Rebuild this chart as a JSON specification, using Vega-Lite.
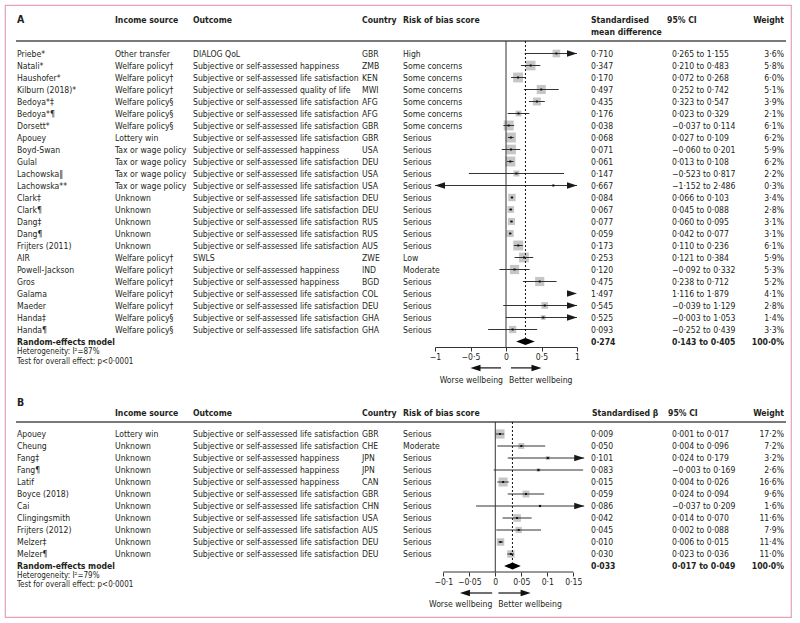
{
 "$schema": "https://vega.github.io/schema/vega-lite/v6.json",
 "width": 786, "height": 612,
 "autosize": {"type": "none"},
 "padding": {"left": 5, "top": 5, "right": 9, "bottom": 6},
 "background": "white",
 "config": {
  "view": {"stroke": "#e6a1b6", "strokeWidth": 1.2},
  "text": {"font": "DejaVu Sans Condensed, Liberation Sans, sans-serif", "fontSize": 8.6, "color": "#231f20", "baseline": "middle"},
  "axis": {"labelFont": "DejaVu Sans Condensed, Liberation Sans, sans-serif", "labelFontSize": 8.6, "labelColor": "#231f20", "grid": false}
 },
 "datasets": {
  "a": [
   {"i":0,"study":"Priebe*","income":"Other transfer","outcome":"DIALOG QoL","country":"GBR","risk":"High","est":0.710,"lo":0.265,"hi":1.155,"w":3.6},
   {"i":1,"study":"Natali*","income":"Welfare policy†","outcome":"Subjective or self-assessed happiness","country":"ZMB","risk":"Some concerns","est":0.347,"lo":0.210,"hi":0.483,"w":5.8},
   {"i":2,"study":"Haushofer*","income":"Welfare policy†","outcome":"Subjective or self-assessed life satisfaction","country":"KEN","risk":"Some concerns","est":0.170,"lo":0.072,"hi":0.268,"w":6.0},
   {"i":3,"study":"Kilburn (2018)*","income":"Welfare policy†","outcome":"Subjective or self-assessed quality of life","country":"MWI","risk":"Some concerns","est":0.497,"lo":0.252,"hi":0.742,"w":5.1},
   {"i":4,"study":"Bedoya*‡","income":"Welfare policy§","outcome":"Subjective or self-assessed life satisfaction","country":"AFG","risk":"Some concerns","est":0.435,"lo":0.323,"hi":0.547,"w":3.9},
   {"i":5,"study":"Bedoya*¶","income":"Welfare policy§","outcome":"Subjective or self-assessed life satisfaction","country":"AFG","risk":"Some concerns","est":0.176,"lo":0.023,"hi":0.329,"w":2.1},
   {"i":6,"study":"Dorsett*","income":"Welfare policy§","outcome":"Subjective or self-assessed life satisfaction","country":"GBR","risk":"Some concerns","est":0.038,"lo":-0.037,"hi":0.114,"w":6.1},
   {"i":7,"study":"Apouey","income":"Lottery win","outcome":"Subjective or self-assessed life satisfaction","country":"GBR","risk":"Serious","est":0.068,"lo":0.027,"hi":0.109,"w":6.2},
   {"i":8,"study":"Boyd-Swan","income":"Tax or wage policy","outcome":"Subjective or self-assessed happiness","country":"USA","risk":"Serious","est":0.071,"lo":-0.060,"hi":0.201,"w":5.9},
   {"i":9,"study":"Gulal","income":"Tax or wage policy","outcome":"Subjective or self-assessed life satisfaction","country":"DEU","risk":"Serious","est":0.061,"lo":0.013,"hi":0.108,"w":6.2},
   {"i":10,"study":"Lachowska‖","income":"Tax or wage policy","outcome":"Subjective or self-assessed life satisfaction","country":"USA","risk":"Serious","est":0.147,"lo":-0.523,"hi":0.817,"w":2.2},
   {"i":11,"study":"Lachowska**","income":"Tax or wage policy","outcome":"Subjective or self-assessed life satisfaction","country":"USA","risk":"Serious","est":0.667,"lo":-1.152,"hi":2.486,"w":0.3},
   {"i":12,"study":"Clark‡","income":"Unknown","outcome":"Subjective or self-assessed life satisfaction","country":"DEU","risk":"Serious","est":0.084,"lo":0.066,"hi":0.103,"w":3.4},
   {"i":13,"study":"Clark¶","income":"Unknown","outcome":"Subjective or self-assessed life satisfaction","country":"DEU","risk":"Serious","est":0.067,"lo":0.045,"hi":0.088,"w":2.8},
   {"i":14,"study":"Dang‡","income":"Unknown","outcome":"Subjective or self-assessed life satisfaction","country":"RUS","risk":"Serious","est":0.077,"lo":0.060,"hi":0.095,"w":3.1},
   {"i":15,"study":"Dang¶","income":"Unknown","outcome":"Subjective or self-assessed life satisfaction","country":"RUS","risk":"Serious","est":0.059,"lo":0.042,"hi":0.077,"w":3.1},
   {"i":16,"study":"Frijters (2011)","income":"Unknown","outcome":"Subjective or self-assessed life satisfaction","country":"AUS","risk":"Serious","est":0.173,"lo":0.110,"hi":0.236,"w":6.1},
   {"i":17,"study":"AIR","income":"Welfare policy†","outcome":"SWLS","country":"ZWE","risk":"Low","est":0.253,"lo":0.121,"hi":0.384,"w":5.9},
   {"i":18,"study":"Powell-Jackson","income":"Welfare policy†","outcome":"Subjective or self-assessed happiness","country":"IND","risk":"Moderate","est":0.120,"lo":-0.092,"hi":0.332,"w":5.3},
   {"i":19,"study":"Gros","income":"Welfare policy†","outcome":"Subjective or self-assessed happiness","country":"BGD","risk":"Serious","est":0.475,"lo":0.238,"hi":0.712,"w":5.2},
   {"i":20,"study":"Galama","income":"Welfare policy†","outcome":"Subjective or self-assessed life satisfaction","country":"COL","risk":"Serious","est":1.497,"lo":1.116,"hi":1.879,"w":4.1},
   {"i":21,"study":"Maeder","income":"Welfare policy†","outcome":"Subjective or self-assessed life satisfaction","country":"DEU","risk":"Serious","est":0.545,"lo":-0.039,"hi":1.129,"w":2.8},
   {"i":22,"study":"Handa‡","income":"Welfare policy§","outcome":"Subjective or self-assessed life satisfaction","country":"GHA","risk":"Serious","est":0.525,"lo":-0.003,"hi":1.053,"w":1.4},
   {"i":23,"study":"Handa¶","income":"Welfare policy§","outcome":"Subjective or self-assessed life satisfaction","country":"GHA","risk":"Serious","est":0.093,"lo":-0.252,"hi":0.439,"w":3.3}
  ],
  "b": [
   {"i":0,"study":"Apouey","income":"Lottery win","outcome":"Subjective or self-assessed life satisfaction","country":"GBR","risk":"Serious","est":0.009,"lo":0.001,"hi":0.017,"w":17.2},
   {"i":1,"study":"Cheung","income":"Unknown","outcome":"Subjective or self-assessed life satisfaction","country":"CHE","risk":"Moderate","est":0.050,"lo":0.004,"hi":0.096,"w":7.2},
   {"i":2,"study":"Fang‡","income":"Unknown","outcome":"Subjective or self-assessed happiness","country":"JPN","risk":"Serious","est":0.101,"lo":0.024,"hi":0.179,"w":3.2},
   {"i":3,"study":"Fang¶","income":"Unknown","outcome":"Subjective or self-assessed happiness","country":"JPN","risk":"Serious","est":0.083,"lo":-0.003,"hi":0.169,"w":2.6},
   {"i":4,"study":"Latif","income":"Unknown","outcome":"Subjective or self-assessed happiness","country":"CAN","risk":"Serious","est":0.015,"lo":0.004,"hi":0.026,"w":16.6},
   {"i":5,"study":"Boyce (2018)","income":"Unknown","outcome":"Subjective or self-assessed life satisfaction","country":"GBR","risk":"Serious","est":0.059,"lo":0.024,"hi":0.094,"w":9.6},
   {"i":6,"study":"Cai","income":"Unknown","outcome":"Subjective or self-assessed life satisfaction","country":"CHN","risk":"Serious","est":0.086,"lo":-0.037,"hi":0.209,"w":1.6},
   {"i":7,"study":"Clingingsmith","income":"Unknown","outcome":"Subjective or self-assessed life satisfaction","country":"USA","risk":"Serious","est":0.042,"lo":0.014,"hi":0.070,"w":11.6},
   {"i":8,"study":"Frijters (2012)","income":"Unknown","outcome":"Subjective or self-assessed life satisfaction","country":"AUS","risk":"Serious","est":0.045,"lo":0.002,"hi":0.088,"w":7.9},
   {"i":9,"study":"Melzer‡","income":"Unknown","outcome":"Subjective or self-assessed life satisfaction","country":"DEU","risk":"Serious","est":0.010,"lo":0.006,"hi":0.015,"w":11.4},
   {"i":10,"study":"Melzer¶","income":"Unknown","outcome":"Subjective or self-assessed life satisfaction","country":"DEU","risk":"Serious","est":0.030,"lo":0.023,"hi":0.036,"w":11.0}
  ],
  "sum": [
   {"panel":"A","label":"Random-effects model","het":"Heterogeneity: I²=87%","test":"Test for overall effect: p<0·0001","est":0.274,"lo":0.143,"hi":0.405,"w":100},
   {"panel":"B","label":"Random-effects model","het":"Heterogeneity: I²=79%","test":"Test for overall effect: p<0·0001","est":0.033,"lo":0.017,"hi":0.049,"w":100}
  ]
 },
 "resolve": {"scale": {"x": "independent", "y": "independent", "size": "independent"}, "axis": {"x": "independent", "y": "independent"}},
 "layer": [
  {
   "data": {"name": "a"},
   "transform": [
    {"calculate": "replace(format(datum.est,'.3f'),'.','·')", "as": "smd_t"},
    {"calculate": "replace(format(datum.lo,'.3f'),'.','·') + ' to ' + replace(format(datum.hi,'.3f'),'.','·')", "as": "ci_t"},
    {"calculate": "replace(format(datum.w,'.1f'),'.','·') + '%'", "as": "w_t"}
   ],
   "layer": [
    {"mark": {"type": "text", "align": "left"}, "encoding": {"x": {"datum": 12, "type": "quantitative", "scale": {"domain": [0, 786], "nice": false, "zero": false}, "axis": null}, "y": {"field": "i", "type": "quantitative", "scale": {"domain": [0, 23], "range": [48.5, 324.5], "nice": false, "zero": false}, "axis": null}, "text": {"field": "study"}}},
    {"mark": {"type": "text", "align": "left"}, "encoding": {"x": {"datum": 110, "type": "quantitative", "scale": {"domain": [0, 786], "nice": false, "zero": false}, "axis": null}, "y": {"field": "i", "type": "quantitative", "scale": {"domain": [0, 23], "range": [48.5, 324.5], "nice": false, "zero": false}, "axis": null}, "text": {"field": "income"}}},
    {"mark": {"type": "text", "align": "left"}, "encoding": {"x": {"datum": 188, "type": "quantitative", "scale": {"domain": [0, 786], "nice": false, "zero": false}, "axis": null}, "y": {"field": "i", "type": "quantitative", "scale": {"domain": [0, 23], "range": [48.5, 324.5], "nice": false, "zero": false}, "axis": null}, "text": {"field": "outcome"}}},
    {"mark": {"type": "text", "align": "left"}, "encoding": {"x": {"datum": 357, "type": "quantitative", "scale": {"domain": [0, 786], "nice": false, "zero": false}, "axis": null}, "y": {"field": "i", "type": "quantitative", "scale": {"domain": [0, 23], "range": [48.5, 324.5], "nice": false, "zero": false}, "axis": null}, "text": {"field": "country"}}},
    {"mark": {"type": "text", "align": "left"}, "encoding": {"x": {"datum": 398, "type": "quantitative", "scale": {"domain": [0, 786], "nice": false, "zero": false}, "axis": null}, "y": {"field": "i", "type": "quantitative", "scale": {"domain": [0, 23], "range": [48.5, 324.5], "nice": false, "zero": false}, "axis": null}, "text": {"field": "risk"}}},
    {"mark": {"type": "text", "align": "left"}, "encoding": {"x": {"datum": 586, "type": "quantitative", "scale": {"domain": [0, 786], "nice": false, "zero": false}, "axis": null}, "y": {"field": "i", "type": "quantitative", "scale": {"domain": [0, 23], "range": [48.5, 324.5], "nice": false, "zero": false}, "axis": null}, "text": {"field": "smd_t"}}},
    {"mark": {"type": "text", "align": "left"}, "encoding": {"x": {"datum": 667, "type": "quantitative", "scale": {"domain": [0, 786], "nice": false, "zero": false}, "axis": null}, "y": {"field": "i", "type": "quantitative", "scale": {"domain": [0, 23], "range": [48.5, 324.5], "nice": false, "zero": false}, "axis": null}, "text": {"field": "ci_t"}}},
    {"mark": {"type": "text", "align": "right"}, "encoding": {"x": {"datum": 779, "type": "quantitative", "scale": {"domain": [0, 786], "nice": false, "zero": false}, "axis": null}, "y": {"field": "i", "type": "quantitative", "scale": {"domain": [0, 23], "range": [48.5, 324.5], "nice": false, "zero": false}, "axis": null}, "text": {"field": "w_t"}}},
    {"data": {"values": [{}]}, "mark": {"type": "text", "align": "left", "fontWeight": "bold", "fontSize": 10.5}, "encoding": {"x": {"datum": 12, "type": "quantitative", "scale": {"domain": [0, 786], "nice": false, "zero": false}, "axis": null}, "y": {"datum": -2.79, "type": "quantitative", "scale": {"domain": [0, 23], "range": [48.5, 324.5], "nice": false, "zero": false}, "axis": null}, "text": {"value": "A"}}},
    {"data": {"values": [{}]}, "mark": {"type": "text", "align": "left", "fontWeight": "bold"}, "encoding": {"x": {"datum": 110, "type": "quantitative", "scale": {"domain": [0, 786], "nice": false, "zero": false}, "axis": null}, "y": {"datum": -2.79, "type": "quantitative", "scale": {"domain": [0, 23], "range": [48.5, 324.5], "nice": false, "zero": false}, "axis": null}, "text": {"value": "Income source"}}},
    {"data": {"values": [{}]}, "mark": {"type": "text", "align": "left", "fontWeight": "bold"}, "encoding": {"x": {"datum": 188, "type": "quantitative", "scale": {"domain": [0, 786], "nice": false, "zero": false}, "axis": null}, "y": {"datum": -2.79, "type": "quantitative", "scale": {"domain": [0, 23], "range": [48.5, 324.5], "nice": false, "zero": false}, "axis": null}, "text": {"value": "Outcome"}}},
    {"data": {"values": [{}]}, "mark": {"type": "text", "align": "left", "fontWeight": "bold"}, "encoding": {"x": {"datum": 357, "type": "quantitative", "scale": {"domain": [0, 786], "nice": false, "zero": false}, "axis": null}, "y": {"datum": -2.79, "type": "quantitative", "scale": {"domain": [0, 23], "range": [48.5, 324.5], "nice": false, "zero": false}, "axis": null}, "text": {"value": "Country"}}},
    {"data": {"values": [{}]}, "mark": {"type": "text", "align": "left", "fontWeight": "bold"}, "encoding": {"x": {"datum": 398, "type": "quantitative", "scale": {"domain": [0, 786], "nice": false, "zero": false}, "axis": null}, "y": {"datum": -2.79, "type": "quantitative", "scale": {"domain": [0, 23], "range": [48.5, 324.5], "nice": false, "zero": false}, "axis": null}, "text": {"value": "Risk of bias score"}}},
    {"data": {"values": [{}]}, "mark": {"type": "text", "align": "left", "fontWeight": "bold"}, "encoding": {"x": {"datum": 586, "type": "quantitative", "scale": {"domain": [0, 786], "nice": false, "zero": false}, "axis": null}, "y": {"datum": -2.79, "type": "quantitative", "scale": {"domain": [0, 23], "range": [48.5, 324.5], "nice": false, "zero": false}, "axis": null}, "text": {"value": "Standardised"}}},
    {"data": {"values": [{}]}, "mark": {"type": "text", "align": "left", "fontWeight": "bold"}, "encoding": {"x": {"datum": 586, "type": "quantitative", "scale": {"domain": [0, 786], "nice": false, "zero": false}, "axis": null}, "y": {"datum": -1.79, "type": "quantitative", "scale": {"domain": [0, 23], "range": [48.5, 324.5], "nice": false, "zero": false}, "axis": null}, "text": {"value": "mean difference"}}},
    {"data": {"values": [{}]}, "mark": {"type": "text", "align": "left", "fontWeight": "bold"}, "encoding": {"x": {"datum": 662, "type": "quantitative", "scale": {"domain": [0, 786], "nice": false, "zero": false}, "axis": null}, "y": {"datum": -2.79, "type": "quantitative", "scale": {"domain": [0, 23], "range": [48.5, 324.5], "nice": false, "zero": false}, "axis": null}, "text": {"value": "95% CI"}}},
    {"data": {"values": [{}]}, "mark": {"type": "text", "align": "right", "fontWeight": "bold"}, "encoding": {"x": {"datum": 779, "type": "quantitative", "scale": {"domain": [0, 786], "nice": false, "zero": false}, "axis": null}, "y": {"datum": -2.79, "type": "quantitative", "scale": {"domain": [0, 23], "range": [48.5, 324.5], "nice": false, "zero": false}, "axis": null}, "text": {"value": "Weight"}}},
    {"data": {"values": [{}]}, "mark": {"type": "rule", "color": "#4d4d4d", "strokeWidth": 1.5}, "encoding": {"x": {"datum": 11, "type": "quantitative", "scale": {"domain": [0, 786], "nice": false, "zero": false}, "axis": null}, "x2": {"datum": 781}, "y": {"datum": -1.04, "type": "quantitative", "scale": {"domain": [0, 23], "range": [48.5, 324.5], "nice": false, "zero": false}, "axis": null}}},
    {
     "data": {"name": "sum"},
     "transform": [
      {"filter": "datum.panel == 'A'"},
      {"calculate": "replace(format(datum.est,'.3f'),'.','·')", "as": "smd_t"},
      {"calculate": "replace(format(datum.lo,'.3f'),'.','·') + ' to ' + replace(format(datum.hi,'.3f'),'.','·')", "as": "ci_t"},
      {"calculate": "replace(format(datum.w,'.1f'),'.','·') + '%'", "as": "w_t"}
     ],
     "layer": [
      {"mark": {"type": "text", "align": "left", "fontWeight": "bold"}, "encoding": {"x": {"datum": 12, "type": "quantitative", "scale": {"domain": [0, 786], "nice": false, "zero": false}, "axis": null}, "y": {"datum": 24, "type": "quantitative", "scale": {"domain": [0, 23], "range": [48.5, 324.5], "nice": false, "zero": false}, "axis": null}, "text": {"field": "label"}}},
      {"mark": {"type": "text", "align": "left", "fontWeight": "bold"}, "encoding": {"x": {"datum": 586, "type": "quantitative", "scale": {"domain": [0, 786], "nice": false, "zero": false}, "axis": null}, "y": {"datum": 24, "type": "quantitative", "scale": {"domain": [0, 23], "range": [48.5, 324.5], "nice": false, "zero": false}, "axis": null}, "text": {"field": "smd_t"}}},
      {"mark": {"type": "text", "align": "left", "fontWeight": "bold"}, "encoding": {"x": {"datum": 667, "type": "quantitative", "scale": {"domain": [0, 786], "nice": false, "zero": false}, "axis": null}, "y": {"datum": 24, "type": "quantitative", "scale": {"domain": [0, 23], "range": [48.5, 324.5], "nice": false, "zero": false}, "axis": null}, "text": {"field": "ci_t"}}},
      {"mark": {"type": "text", "align": "right", "fontWeight": "bold"}, "encoding": {"x": {"datum": 779, "type": "quantitative", "scale": {"domain": [0, 786], "nice": false, "zero": false}, "axis": null}, "y": {"datum": 24, "type": "quantitative", "scale": {"domain": [0, 23], "range": [48.5, 324.5], "nice": false, "zero": false}, "axis": null}, "text": {"field": "w_t"}}},
      {"mark": {"type": "text", "align": "left", "fontSize": 8}, "encoding": {"x": {"datum": 12, "type": "quantitative", "scale": {"domain": [0, 786], "nice": false, "zero": false}, "axis": null}, "y": {"datum": 24.85, "type": "quantitative", "scale": {"domain": [0, 23], "range": [48.5, 324.5], "nice": false, "zero": false}, "axis": null}, "text": {"field": "het"}}},
      {"mark": {"type": "text", "align": "left", "fontSize": 8}, "encoding": {"x": {"datum": 12, "type": "quantitative", "scale": {"domain": [0, 786], "nice": false, "zero": false}, "axis": null}, "y": {"datum": 25.7, "type": "quantitative", "scale": {"domain": [0, 23], "range": [48.5, 324.5], "nice": false, "zero": false}, "axis": null}, "text": {"field": "test"}}}
     ]
    }
   ]
  },
  {
   "data": {"name": "a"},
   "layer": [
    {"transform": [{"filter": "datum.est >= -1 && datum.est <= 1"}], "mark": {"type": "point", "shape": "square", "filled": true, "color": "#c6c6c6", "opacity": 1}, "encoding": {"x": {"field": "est", "type": "quantitative", "scale": {"domain": [-1, 1], "range": [430, 572], "clamp": true, "nice": false, "zero": false}, "axis": {"values": [-1, -0.5, 0, 0.5, 1], "orient": "bottom", "offset": -270, "title": null, "labelExpr": "replace(format(datum.value, '~g'), '.', '·')", "domainColor": "#333333", "tickColor": "#333333", "tickSize": 4, "labelPadding": 1, "labelFlush": false, "labelOverlap": false}}, "y": {"field": "i", "type": "quantitative", "scale": {"domain": [0, 23], "range": [48.5, 324.5], "nice": false, "zero": false}, "axis": null}, "size": {"field": "w", "type": "quantitative", "scale": {"domain": [0, 6.2], "range": [0, 100]}, "legend": null}}},
    {"mark": {"type": "rule", "color": "#333333", "strokeWidth": 1}, "encoding": {"x": {"field": "lo", "type": "quantitative", "scale": {"domain": [-1, 1], "range": [430, 572], "clamp": true, "nice": false, "zero": false}, "axis": {"values": [-1, -0.5, 0, 0.5, 1], "orient": "bottom", "offset": -270, "title": null, "labelExpr": "replace(format(datum.value, '~g'), '.', '·')", "domainColor": "#333333", "tickColor": "#333333", "tickSize": 4, "labelPadding": 1, "labelFlush": false, "labelOverlap": false}}, "x2": {"field": "hi"}, "y": {"field": "i", "type": "quantitative", "scale": {"domain": [0, 23], "range": [48.5, 324.5], "nice": false, "zero": false}, "axis": null}}},
    {"transform": [{"filter": "datum.est >= -1 && datum.est <= 1"}], "mark": {"type": "point", "shape": "square", "filled": true, "color": "#111111", "size": 4, "opacity": 1}, "encoding": {"x": {"field": "est", "type": "quantitative", "scale": {"domain": [-1, 1], "range": [430, 572], "clamp": true, "nice": false, "zero": false}, "axis": {"values": [-1, -0.5, 0, 0.5, 1], "orient": "bottom", "offset": -270, "title": null, "labelExpr": "replace(format(datum.value, '~g'), '.', '·')", "domainColor": "#333333", "tickColor": "#333333", "tickSize": 4, "labelPadding": 1, "labelFlush": false, "labelOverlap": false}}, "y": {"field": "i", "type": "quantitative", "scale": {"domain": [0, 23], "range": [48.5, 324.5], "nice": false, "zero": false}, "axis": null}}},
    {"transform": [{"filter": "datum.hi > 1"}], "mark": {"type": "point", "shape": "M1,0L-1,-0.65L-1,0.65Z", "filled": true, "color": "#1a1a1a", "size": 100, "xOffset": -5, "opacity": 1}, "encoding": {"x": {"field": "hi", "type": "quantitative", "scale": {"domain": [-1, 1], "range": [430, 572], "clamp": true, "nice": false, "zero": false}, "axis": {"values": [-1, -0.5, 0, 0.5, 1], "orient": "bottom", "offset": -270, "title": null, "labelExpr": "replace(format(datum.value, '~g'), '.', '·')", "domainColor": "#333333", "tickColor": "#333333", "tickSize": 4, "labelPadding": 1, "labelFlush": false, "labelOverlap": false}}, "y": {"field": "i", "type": "quantitative", "scale": {"domain": [0, 23], "range": [48.5, 324.5], "nice": false, "zero": false}, "axis": null}}},
    {"transform": [{"filter": "datum.lo < -1"}], "mark": {"type": "point", "shape": "M-1,0L1,-0.65L1,0.65Z", "filled": true, "color": "#1a1a1a", "size": 100, "xOffset": 5, "opacity": 1}, "encoding": {"x": {"field": "lo", "type": "quantitative", "scale": {"domain": [-1, 1], "range": [430, 572], "clamp": true, "nice": false, "zero": false}, "axis": {"values": [-1, -0.5, 0, 0.5, 1], "orient": "bottom", "offset": -270, "title": null, "labelExpr": "replace(format(datum.value, '~g'), '.', '·')", "domainColor": "#333333", "tickColor": "#333333", "tickSize": 4, "labelPadding": 1, "labelFlush": false, "labelOverlap": false}}, "y": {"field": "i", "type": "quantitative", "scale": {"domain": [0, 23], "range": [48.5, 324.5], "nice": false, "zero": false}, "axis": null}}},
    {"data": {"values": [{}]}, "mark": {"type": "rule", "color": "#333333", "strokeWidth": 1}, "encoding": {"x": {"datum": 0, "type": "quantitative", "scale": {"domain": [-1, 1], "range": [430, 572], "clamp": true, "nice": false, "zero": false}, "axis": {"values": [-1, -0.5, 0, 0.5, 1], "orient": "bottom", "offset": -270, "title": null, "labelExpr": "replace(format(datum.value, '~g'), '.', '·')", "domainColor": "#333333", "tickColor": "#333333", "tickSize": 4, "labelPadding": 1, "labelFlush": false, "labelOverlap": false}}, "y": {"datum": -1.04, "type": "quantitative", "scale": {"domain": [0, 23], "range": [48.5, 324.5], "nice": false, "zero": false}, "axis": null}, "y2": {"datum": 24.46}}},
    {"data": {"name": "sum"}, "transform": [{"filter": "datum.panel == 'A'"}], "mark": {"type": "rule", "color": "#111111", "strokeWidth": 1, "strokeDash": [2, 2]}, "encoding": {"x": {"field": "est", "type": "quantitative", "scale": {"domain": [-1, 1], "range": [430, 572], "clamp": true, "nice": false, "zero": false}, "axis": {"values": [-1, -0.5, 0, 0.5, 1], "orient": "bottom", "offset": -270, "title": null, "labelExpr": "replace(format(datum.value, '~g'), '.', '·')", "domainColor": "#333333", "tickColor": "#333333", "tickSize": 4, "labelPadding": 1, "labelFlush": false, "labelOverlap": false}}, "y": {"datum": -1.04, "type": "quantitative", "scale": {"domain": [0, 23], "range": [48.5, 324.5], "nice": false, "zero": false}, "axis": null}, "y2": {"datum": 23.7}}},
    {"data": {"name": "sum"}, "transform": [{"filter": "datum.panel == 'A'"}], "mark": {"type": "point", "shape": "M-1,0L0,-0.38L1,0L0,0.38Z", "filled": true, "color": "#000000", "size": 346, "opacity": 1}, "encoding": {"x": {"field": "est", "type": "quantitative", "scale": {"domain": [-1, 1], "range": [430, 572], "clamp": true, "nice": false, "zero": false}, "axis": {"values": [-1, -0.5, 0, 0.5, 1], "orient": "bottom", "offset": -270, "title": null, "labelExpr": "replace(format(datum.value, '~g'), '.', '·')", "domainColor": "#333333", "tickColor": "#333333", "tickSize": 4, "labelPadding": 1, "labelFlush": false, "labelOverlap": false}}, "y": {"datum": 24, "type": "quantitative", "scale": {"domain": [0, 23], "range": [48.5, 324.5], "nice": false, "zero": false}, "axis": null}}},
    {"data": {"values": [{}]}, "mark": {"type": "rule", "color": "#111111", "strokeWidth": 1.2}, "encoding": {"x": {"datum": -0.07, "type": "quantitative", "scale": {"domain": [-1, 1], "range": [430, 572], "clamp": true, "nice": false, "zero": false}, "axis": {"values": [-1, -0.5, 0, 0.5, 1], "orient": "bottom", "offset": -270, "title": null, "labelExpr": "replace(format(datum.value, '~g'), '.', '·')", "domainColor": "#333333", "tickColor": "#333333", "tickSize": 4, "labelPadding": 1, "labelFlush": false, "labelOverlap": false}}, "x2": {"datum": -0.42}, "y": {"datum": 26.2, "type": "quantitative", "scale": {"domain": [0, 23], "range": [48.5, 324.5], "nice": false, "zero": false}, "axis": null}}},
    {"data": {"values": [{}]}, "mark": {"type": "rule", "color": "#111111", "strokeWidth": 1.2}, "encoding": {"x": {"datum": 0.07, "type": "quantitative", "scale": {"domain": [-1, 1], "range": [430, 572], "clamp": true, "nice": false, "zero": false}, "axis": {"values": [-1, -0.5, 0, 0.5, 1], "orient": "bottom", "offset": -270, "title": null, "labelExpr": "replace(format(datum.value, '~g'), '.', '·')", "domainColor": "#333333", "tickColor": "#333333", "tickSize": 4, "labelPadding": 1, "labelFlush": false, "labelOverlap": false}}, "x2": {"datum": 0.42}, "y": {"datum": 26.2, "type": "quantitative", "scale": {"domain": [0, 23], "range": [48.5, 324.5], "nice": false, "zero": false}, "axis": null}}},
    {"data": {"values": [{}]}, "mark": {"type": "point", "shape": "M-1,0L1,-0.65L1,0.65Z", "filled": true, "color": "#111111", "size": 100, "xOffset": 5, "opacity": 1}, "encoding": {"x": {"datum": -0.5, "type": "quantitative", "scale": {"domain": [-1, 1], "range": [430, 572], "clamp": true, "nice": false, "zero": false}, "axis": {"values": [-1, -0.5, 0, 0.5, 1], "orient": "bottom", "offset": -270, "title": null, "labelExpr": "replace(format(datum.value, '~g'), '.', '·')", "domainColor": "#333333", "tickColor": "#333333", "tickSize": 4, "labelPadding": 1, "labelFlush": false, "labelOverlap": false}}, "y": {"datum": 26.2, "type": "quantitative", "scale": {"domain": [0, 23], "range": [48.5, 324.5], "nice": false, "zero": false}, "axis": null}}},
    {"data": {"values": [{}]}, "mark": {"type": "point", "shape": "M1,0L-1,-0.65L-1,0.65Z", "filled": true, "color": "#111111", "size": 100, "xOffset": -5, "opacity": 1}, "encoding": {"x": {"datum": 0.5, "type": "quantitative", "scale": {"domain": [-1, 1], "range": [430, 572], "clamp": true, "nice": false, "zero": false}, "axis": {"values": [-1, -0.5, 0, 0.5, 1], "orient": "bottom", "offset": -270, "title": null, "labelExpr": "replace(format(datum.value, '~g'), '.', '·')", "domainColor": "#333333", "tickColor": "#333333", "tickSize": 4, "labelPadding": 1, "labelFlush": false, "labelOverlap": false}}, "y": {"datum": 26.2, "type": "quantitative", "scale": {"domain": [0, 23], "range": [48.5, 324.5], "nice": false, "zero": false}, "axis": null}}},
    {"data": {"values": [{}]}, "mark": {"type": "text", "align": "right", "dx": -3}, "encoding": {"x": {"datum": 0, "type": "quantitative", "scale": {"domain": [-1, 1], "range": [430, 572], "clamp": true, "nice": false, "zero": false}, "axis": {"values": [-1, -0.5, 0, 0.5, 1], "orient": "bottom", "offset": -270, "title": null, "labelExpr": "replace(format(datum.value, '~g'), '.', '·')", "domainColor": "#333333", "tickColor": "#333333", "tickSize": 4, "labelPadding": 1, "labelFlush": false, "labelOverlap": false}}, "y": {"datum": 27.2, "type": "quantitative", "scale": {"domain": [0, 23], "range": [48.5, 324.5], "nice": false, "zero": false}, "axis": null}, "text": {"value": "Worse wellbeing"}}},
    {"data": {"values": [{}]}, "mark": {"type": "text", "align": "left", "dx": 3}, "encoding": {"x": {"datum": 0, "type": "quantitative", "scale": {"domain": [-1, 1], "range": [430, 572], "clamp": true, "nice": false, "zero": false}, "axis": {"values": [-1, -0.5, 0, 0.5, 1], "orient": "bottom", "offset": -270, "title": null, "labelExpr": "replace(format(datum.value, '~g'), '.', '·')", "domainColor": "#333333", "tickColor": "#333333", "tickSize": 4, "labelPadding": 1, "labelFlush": false, "labelOverlap": false}}, "y": {"datum": 27.2, "type": "quantitative", "scale": {"domain": [0, 23], "range": [48.5, 324.5], "nice": false, "zero": false}, "axis": null}, "text": {"value": "Better wellbeing"}}}
   ]
  },
  {
   "data": {"name": "b"},
   "transform": [
    {"calculate": "replace(format(datum.est,'.3f'),'.','·')", "as": "smd_t"},
    {"calculate": "replace(format(datum.lo,'.3f'),'.','·') + ' to ' + replace(format(datum.hi,'.3f'),'.','·')", "as": "ci_t"},
    {"calculate": "replace(format(datum.w,'.1f'),'.','·') + '%'", "as": "w_t"}
   ],
   "layer": [
    {"mark": {"type": "text", "align": "left"}, "encoding": {"x": {"datum": 12, "type": "quantitative", "scale": {"domain": [0, 786], "nice": false, "zero": false}, "axis": null}, "y": {"field": "i", "type": "quantitative", "scale": {"domain": [0, 10], "range": [429, 549], "nice": false, "zero": false}, "axis": null}, "text": {"field": "study"}}},
    {"mark": {"type": "text", "align": "left"}, "encoding": {"x": {"datum": 110, "type": "quantitative", "scale": {"domain": [0, 786], "nice": false, "zero": false}, "axis": null}, "y": {"field": "i", "type": "quantitative", "scale": {"domain": [0, 10], "range": [429, 549], "nice": false, "zero": false}, "axis": null}, "text": {"field": "income"}}},
    {"mark": {"type": "text", "align": "left"}, "encoding": {"x": {"datum": 188, "type": "quantitative", "scale": {"domain": [0, 786], "nice": false, "zero": false}, "axis": null}, "y": {"field": "i", "type": "quantitative", "scale": {"domain": [0, 10], "range": [429, 549], "nice": false, "zero": false}, "axis": null}, "text": {"field": "outcome"}}},
    {"mark": {"type": "text", "align": "left"}, "encoding": {"x": {"datum": 357, "type": "quantitative", "scale": {"domain": [0, 786], "nice": false, "zero": false}, "axis": null}, "y": {"field": "i", "type": "quantitative", "scale": {"domain": [0, 10], "range": [429, 549], "nice": false, "zero": false}, "axis": null}, "text": {"field": "country"}}},
    {"mark": {"type": "text", "align": "left"}, "encoding": {"x": {"datum": 398, "type": "quantitative", "scale": {"domain": [0, 786], "nice": false, "zero": false}, "axis": null}, "y": {"field": "i", "type": "quantitative", "scale": {"domain": [0, 10], "range": [429, 549], "nice": false, "zero": false}, "axis": null}, "text": {"field": "risk"}}},
    {"mark": {"type": "text", "align": "left"}, "encoding": {"x": {"datum": 586, "type": "quantitative", "scale": {"domain": [0, 786], "nice": false, "zero": false}, "axis": null}, "y": {"field": "i", "type": "quantitative", "scale": {"domain": [0, 10], "range": [429, 549], "nice": false, "zero": false}, "axis": null}, "text": {"field": "smd_t"}}},
    {"mark": {"type": "text", "align": "left"}, "encoding": {"x": {"datum": 667, "type": "quantitative", "scale": {"domain": [0, 786], "nice": false, "zero": false}, "axis": null}, "y": {"field": "i", "type": "quantitative", "scale": {"domain": [0, 10], "range": [429, 549], "nice": false, "zero": false}, "axis": null}, "text": {"field": "ci_t"}}},
    {"mark": {"type": "text", "align": "right"}, "encoding": {"x": {"datum": 779, "type": "quantitative", "scale": {"domain": [0, 786], "nice": false, "zero": false}, "axis": null}, "y": {"field": "i", "type": "quantitative", "scale": {"domain": [0, 10], "range": [429, 549], "nice": false, "zero": false}, "axis": null}, "text": {"field": "w_t"}}},
    {"data": {"values": [{}]}, "mark": {"type": "text", "align": "left", "fontWeight": "bold", "fontSize": 10.5}, "encoding": {"x": {"datum": 12, "type": "quantitative", "scale": {"domain": [0, 786], "nice": false, "zero": false}, "axis": null}, "y": {"datum": -2.58, "type": "quantitative", "scale": {"domain": [0, 10], "range": [429, 549], "nice": false, "zero": false}, "axis": null}, "text": {"value": "B"}}},
    {"data": {"values": [{}]}, "mark": {"type": "text", "align": "left", "fontWeight": "bold"}, "encoding": {"x": {"datum": 110, "type": "quantitative", "scale": {"domain": [0, 786], "nice": false, "zero": false}, "axis": null}, "y": {"datum": -1.75, "type": "quantitative", "scale": {"domain": [0, 10], "range": [429, 549], "nice": false, "zero": false}, "axis": null}, "text": {"value": "Income source"}}},
    {"data": {"values": [{}]}, "mark": {"type": "text", "align": "left", "fontWeight": "bold"}, "encoding": {"x": {"datum": 188, "type": "quantitative", "scale": {"domain": [0, 786], "nice": false, "zero": false}, "axis": null}, "y": {"datum": -1.75, "type": "quantitative", "scale": {"domain": [0, 10], "range": [429, 549], "nice": false, "zero": false}, "axis": null}, "text": {"value": "Outcome"}}},
    {"data": {"values": [{}]}, "mark": {"type": "text", "align": "left", "fontWeight": "bold"}, "encoding": {"x": {"datum": 357, "type": "quantitative", "scale": {"domain": [0, 786], "nice": false, "zero": false}, "axis": null}, "y": {"datum": -1.75, "type": "quantitative", "scale": {"domain": [0, 10], "range": [429, 549], "nice": false, "zero": false}, "axis": null}, "text": {"value": "Country"}}},
    {"data": {"values": [{}]}, "mark": {"type": "text", "align": "left", "fontWeight": "bold"}, "encoding": {"x": {"datum": 398, "type": "quantitative", "scale": {"domain": [0, 786], "nice": false, "zero": false}, "axis": null}, "y": {"datum": -1.75, "type": "quantitative", "scale": {"domain": [0, 10], "range": [429, 549], "nice": false, "zero": false}, "axis": null}, "text": {"value": "Risk of bias score"}}},
    {"data": {"values": [{}]}, "mark": {"type": "text", "align": "left", "fontWeight": "bold"}, "encoding": {"x": {"datum": 587, "type": "quantitative", "scale": {"domain": [0, 786], "nice": false, "zero": false}, "axis": null}, "y": {"datum": -1.75, "type": "quantitative", "scale": {"domain": [0, 10], "range": [429, 549], "nice": false, "zero": false}, "axis": null}, "text": {"value": "Standardised β"}}},
    {"data": {"values": [{}]}, "mark": {"type": "text", "align": "left", "fontWeight": "bold"}, "encoding": {"x": {"datum": 663, "type": "quantitative", "scale": {"domain": [0, 786], "nice": false, "zero": false}, "axis": null}, "y": {"datum": -1.75, "type": "quantitative", "scale": {"domain": [0, 10], "range": [429, 549], "nice": false, "zero": false}, "axis": null}, "text": {"value": "95% CI"}}},
    {"data": {"values": [{}]}, "mark": {"type": "text", "align": "right", "fontWeight": "bold"}, "encoding": {"x": {"datum": 779, "type": "quantitative", "scale": {"domain": [0, 786], "nice": false, "zero": false}, "axis": null}, "y": {"datum": -1.75, "type": "quantitative", "scale": {"domain": [0, 10], "range": [429, 549], "nice": false, "zero": false}, "axis": null}, "text": {"value": "Weight"}}},
    {"data": {"values": [{}]}, "mark": {"type": "rule", "color": "#4d4d4d", "strokeWidth": 1.5}, "encoding": {"x": {"datum": 11, "type": "quantitative", "scale": {"domain": [0, 786], "nice": false, "zero": false}, "axis": null}, "x2": {"datum": 781}, "y": {"datum": -1.0, "type": "quantitative", "scale": {"domain": [0, 10], "range": [429, 549], "nice": false, "zero": false}, "axis": null}}},
    {
     "data": {"name": "sum"},
     "transform": [
      {"filter": "datum.panel == 'B'"},
      {"calculate": "replace(format(datum.est,'.3f'),'.','·')", "as": "smd_t"},
      {"calculate": "replace(format(datum.lo,'.3f'),'.','·') + ' to ' + replace(format(datum.hi,'.3f'),'.','·')", "as": "ci_t"},
      {"calculate": "replace(format(datum.w,'.1f'),'.','·') + '%'", "as": "w_t"}
     ],
     "layer": [
      {"mark": {"type": "text", "align": "left", "fontWeight": "bold"}, "encoding": {"x": {"datum": 12, "type": "quantitative", "scale": {"domain": [0, 786], "nice": false, "zero": false}, "axis": null}, "y": {"datum": 11, "type": "quantitative", "scale": {"domain": [0, 10], "range": [429, 549], "nice": false, "zero": false}, "axis": null}, "text": {"field": "label"}}},
      {"mark": {"type": "text", "align": "left", "fontWeight": "bold"}, "encoding": {"x": {"datum": 586, "type": "quantitative", "scale": {"domain": [0, 786], "nice": false, "zero": false}, "axis": null}, "y": {"datum": 11, "type": "quantitative", "scale": {"domain": [0, 10], "range": [429, 549], "nice": false, "zero": false}, "axis": null}, "text": {"field": "smd_t"}}},
      {"mark": {"type": "text", "align": "left", "fontWeight": "bold"}, "encoding": {"x": {"datum": 667, "type": "quantitative", "scale": {"domain": [0, 786], "nice": false, "zero": false}, "axis": null}, "y": {"datum": 11, "type": "quantitative", "scale": {"domain": [0, 10], "range": [429, 549], "nice": false, "zero": false}, "axis": null}, "text": {"field": "ci_t"}}},
      {"mark": {"type": "text", "align": "right", "fontWeight": "bold"}, "encoding": {"x": {"datum": 779, "type": "quantitative", "scale": {"domain": [0, 786], "nice": false, "zero": false}, "axis": null}, "y": {"datum": 11, "type": "quantitative", "scale": {"domain": [0, 10], "range": [429, 549], "nice": false, "zero": false}, "axis": null}, "text": {"field": "w_t"}}},
      {"mark": {"type": "text", "align": "left", "fontSize": 8}, "encoding": {"x": {"datum": 12, "type": "quantitative", "scale": {"domain": [0, 786], "nice": false, "zero": false}, "axis": null}, "y": {"datum": 11.8, "type": "quantitative", "scale": {"domain": [0, 10], "range": [429, 549], "nice": false, "zero": false}, "axis": null}, "text": {"field": "het"}}},
      {"mark": {"type": "text", "align": "left", "fontSize": 8}, "encoding": {"x": {"datum": 12, "type": "quantitative", "scale": {"domain": [0, 786], "nice": false, "zero": false}, "axis": null}, "y": {"datum": 12.6, "type": "quantitative", "scale": {"domain": [0, 10], "range": [429, 549], "nice": false, "zero": false}, "axis": null}, "text": {"field": "test"}}}
     ]
    }
   ]
  },
  {
   "data": {"name": "b"},
   "layer": [
    {"mark": {"type": "point", "shape": "square", "filled": true, "color": "#c6c6c6", "opacity": 1}, "encoding": {"x": {"field": "est", "type": "quantitative", "scale": {"domain": [-0.1, 0.171], "range": [438.3, 579.2], "clamp": true, "nice": false, "zero": false}, "axis": {"values": [-0.1, -0.05, 0, 0.05, 0.1, 0.15], "orient": "bottom", "offset": -45, "domain": false, "title": null, "labelExpr": "replace(format(datum.value, '~g'), '.', '·')", "tickColor": "#333333", "tickSize": 4, "labelPadding": 1, "labelFlush": false, "labelOverlap": false}}, "y": {"field": "i", "type": "quantitative", "scale": {"domain": [0, 10], "range": [429, 549], "nice": false, "zero": false}, "axis": null}, "size": {"field": "w", "type": "quantitative", "scale": {"domain": [0, 17.2], "range": [0, 85]}, "legend": null}}},
    {"mark": {"type": "rule", "color": "#333333", "strokeWidth": 1}, "encoding": {"x": {"field": "lo", "type": "quantitative", "scale": {"domain": [-0.1, 0.171], "range": [438.3, 579.2], "clamp": true, "nice": false, "zero": false}, "axis": {"values": [-0.1, -0.05, 0, 0.05, 0.1, 0.15], "orient": "bottom", "offset": -45, "domain": false, "title": null, "labelExpr": "replace(format(datum.value, '~g'), '.', '·')", "tickColor": "#333333", "tickSize": 4, "labelPadding": 1, "labelFlush": false, "labelOverlap": false}}, "x2": {"field": "hi"}, "y": {"field": "i", "type": "quantitative", "scale": {"domain": [0, 10], "range": [429, 549], "nice": false, "zero": false}, "axis": null}}},
    {"mark": {"type": "point", "shape": "square", "filled": true, "color": "#111111", "size": 4, "opacity": 1}, "encoding": {"x": {"field": "est", "type": "quantitative", "scale": {"domain": [-0.1, 0.171], "range": [438.3, 579.2], "clamp": true, "nice": false, "zero": false}, "axis": {"values": [-0.1, -0.05, 0, 0.05, 0.1, 0.15], "orient": "bottom", "offset": -45, "domain": false, "title": null, "labelExpr": "replace(format(datum.value, '~g'), '.', '·')", "tickColor": "#333333", "tickSize": 4, "labelPadding": 1, "labelFlush": false, "labelOverlap": false}}, "y": {"field": "i", "type": "quantitative", "scale": {"domain": [0, 10], "range": [429, 549], "nice": false, "zero": false}, "axis": null}}},
    {"transform": [{"filter": "datum.hi > 0.171"}], "mark": {"type": "point", "shape": "M1,0L-1,-0.65L-1,0.65Z", "filled": true, "color": "#1a1a1a", "size": 100, "xOffset": -5, "opacity": 1}, "encoding": {"x": {"field": "hi", "type": "quantitative", "scale": {"domain": [-0.1, 0.171], "range": [438.3, 579.2], "clamp": true, "nice": false, "zero": false}, "axis": {"values": [-0.1, -0.05, 0, 0.05, 0.1, 0.15], "orient": "bottom", "offset": -45, "domain": false, "title": null, "labelExpr": "replace(format(datum.value, '~g'), '.', '·')", "tickColor": "#333333", "tickSize": 4, "labelPadding": 1, "labelFlush": false, "labelOverlap": false}}, "y": {"field": "i", "type": "quantitative", "scale": {"domain": [0, 10], "range": [429, 549], "nice": false, "zero": false}, "axis": null}}},
    {"data": {"values": [{}]}, "mark": {"type": "rule", "color": "#333333", "strokeWidth": 1}, "encoding": {"x": {"datum": 0, "type": "quantitative", "scale": {"domain": [-0.1, 0.171], "range": [438.3, 579.2], "clamp": true, "nice": false, "zero": false}, "axis": {"values": [-0.1, -0.05, 0, 0.05, 0.1, 0.15], "orient": "bottom", "offset": -45, "domain": false, "title": null, "labelExpr": "replace(format(datum.value, '~g'), '.', '·')", "tickColor": "#333333", "tickSize": 4, "labelPadding": 1, "labelFlush": false, "labelOverlap": false}}, "y": {"datum": -1.0, "type": "quantitative", "scale": {"domain": [0, 10], "range": [429, 549], "nice": false, "zero": false}, "axis": null}, "y2": {"datum": 11.5}}},
    {"data": {"values": [{}]}, "mark": {"type": "rule", "color": "#333333", "strokeWidth": 1}, "encoding": {"x": {"datum": -0.1, "type": "quantitative", "scale": {"domain": [-0.1, 0.171], "range": [438.3, 579.2], "clamp": true, "nice": false, "zero": false}, "axis": {"values": [-0.1, -0.05, 0, 0.05, 0.1, 0.15], "orient": "bottom", "offset": -45, "domain": false, "title": null, "labelExpr": "replace(format(datum.value, '~g'), '.', '·')", "tickColor": "#333333", "tickSize": 4, "labelPadding": 1, "labelFlush": false, "labelOverlap": false}}, "x2": {"datum": 0.15}, "y": {"datum": 11.5, "type": "quantitative", "scale": {"domain": [0, 10], "range": [429, 549], "nice": false, "zero": false}, "axis": null}}},
    {"data": {"name": "sum"}, "transform": [{"filter": "datum.panel == 'B'"}], "mark": {"type": "rule", "color": "#111111", "strokeWidth": 1, "strokeDash": [2, 2]}, "encoding": {"x": {"field": "est", "type": "quantitative", "scale": {"domain": [-0.1, 0.171], "range": [438.3, 579.2], "clamp": true, "nice": false, "zero": false}, "axis": {"values": [-0.1, -0.05, 0, 0.05, 0.1, 0.15], "orient": "bottom", "offset": -45, "domain": false, "title": null, "labelExpr": "replace(format(datum.value, '~g'), '.', '·')", "tickColor": "#333333", "tickSize": 4, "labelPadding": 1, "labelFlush": false, "labelOverlap": false}}, "y": {"datum": -1.0, "type": "quantitative", "scale": {"domain": [0, 10], "range": [429, 549], "nice": false, "zero": false}, "axis": null}, "y2": {"datum": 10.7}}},
    {"data": {"name": "sum"}, "transform": [{"filter": "datum.panel == 'B'"}], "mark": {"type": "point", "shape": "M-1,0L0,-0.42L1,0L0,0.42Z", "filled": true, "color": "#000000", "size": 276, "opacity": 1}, "encoding": {"x": {"field": "est", "type": "quantitative", "scale": {"domain": [-0.1, 0.171], "range": [438.3, 579.2], "clamp": true, "nice": false, "zero": false}, "axis": {"values": [-0.1, -0.05, 0, 0.05, 0.1, 0.15], "orient": "bottom", "offset": -45, "domain": false, "title": null, "labelExpr": "replace(format(datum.value, '~g'), '.', '·')", "tickColor": "#333333", "tickSize": 4, "labelPadding": 1, "labelFlush": false, "labelOverlap": false}}, "y": {"datum": 11, "type": "quantitative", "scale": {"domain": [0, 10], "range": [429, 549], "nice": false, "zero": false}, "axis": null}}},
    {"data": {"values": [{}]}, "mark": {"type": "rule", "color": "#111111", "strokeWidth": 1.2}, "encoding": {"x": {"datum": -0.006, "type": "quantitative", "scale": {"domain": [-0.1, 0.171], "range": [438.3, 579.2], "clamp": true, "nice": false, "zero": false}, "axis": {"values": [-0.1, -0.05, 0, 0.05, 0.1, 0.15], "orient": "bottom", "offset": -45, "domain": false, "title": null, "labelExpr": "replace(format(datum.value, '~g'), '.', '·')", "tickColor": "#333333", "tickSize": 4, "labelPadding": 1, "labelFlush": false, "labelOverlap": false}}, "x2": {"datum": -0.055}, "y": {"datum": 13.25, "type": "quantitative", "scale": {"domain": [0, 10], "range": [429, 549], "nice": false, "zero": false}, "axis": null}}},
    {"data": {"values": [{}]}, "mark": {"type": "rule", "color": "#111111", "strokeWidth": 1.2}, "encoding": {"x": {"datum": 0.006, "type": "quantitative", "scale": {"domain": [-0.1, 0.171], "range": [438.3, 579.2], "clamp": true, "nice": false, "zero": false}, "axis": {"values": [-0.1, -0.05, 0, 0.05, 0.1, 0.15], "orient": "bottom", "offset": -45, "domain": false, "title": null, "labelExpr": "replace(format(datum.value, '~g'), '.', '·')", "tickColor": "#333333", "tickSize": 4, "labelPadding": 1, "labelFlush": false, "labelOverlap": false}}, "x2": {"datum": 0.055}, "y": {"datum": 13.25, "type": "quantitative", "scale": {"domain": [0, 10], "range": [429, 549], "nice": false, "zero": false}, "axis": null}}},
    {"data": {"values": [{}]}, "mark": {"type": "point", "shape": "M-1,0L1,-0.65L1,0.65Z", "filled": true, "color": "#111111", "size": 100, "xOffset": 5, "opacity": 1}, "encoding": {"x": {"datum": -0.068, "type": "quantitative", "scale": {"domain": [-0.1, 0.171], "range": [438.3, 579.2], "clamp": true, "nice": false, "zero": false}, "axis": {"values": [-0.1, -0.05, 0, 0.05, 0.1, 0.15], "orient": "bottom", "offset": -45, "domain": false, "title": null, "labelExpr": "replace(format(datum.value, '~g'), '.', '·')", "tickColor": "#333333", "tickSize": 4, "labelPadding": 1, "labelFlush": false, "labelOverlap": false}}, "y": {"datum": 13.25, "type": "quantitative", "scale": {"domain": [0, 10], "range": [429, 549], "nice": false, "zero": false}, "axis": null}}},
    {"data": {"values": [{}]}, "mark": {"type": "point", "shape": "M1,0L-1,-0.65L-1,0.65Z", "filled": true, "color": "#111111", "size": 100, "xOffset": -5, "opacity": 1}, "encoding": {"x": {"datum": 0.068, "type": "quantitative", "scale": {"domain": [-0.1, 0.171], "range": [438.3, 579.2], "clamp": true, "nice": false, "zero": false}, "axis": {"values": [-0.1, -0.05, 0, 0.05, 0.1, 0.15], "orient": "bottom", "offset": -45, "domain": false, "title": null, "labelExpr": "replace(format(datum.value, '~g'), '.', '·')", "tickColor": "#333333", "tickSize": 4, "labelPadding": 1, "labelFlush": false, "labelOverlap": false}}, "y": {"datum": 13.25, "type": "quantitative", "scale": {"domain": [0, 10], "range": [429, 549], "nice": false, "zero": false}, "axis": null}}},
    {"data": {"values": [{}]}, "mark": {"type": "text", "align": "right", "dx": -3}, "encoding": {"x": {"datum": 0, "type": "quantitative", "scale": {"domain": [-0.1, 0.171], "range": [438.3, 579.2], "clamp": true, "nice": false, "zero": false}, "axis": {"values": [-0.1, -0.05, 0, 0.05, 0.1, 0.15], "orient": "bottom", "offset": -45, "domain": false, "title": null, "labelExpr": "replace(format(datum.value, '~g'), '.', '·')", "tickColor": "#333333", "tickSize": 4, "labelPadding": 1, "labelFlush": false, "labelOverlap": false}}, "y": {"datum": 14.17, "type": "quantitative", "scale": {"domain": [0, 10], "range": [429, 549], "nice": false, "zero": false}, "axis": null}, "text": {"value": "Worse wellbeing"}}},
    {"data": {"values": [{}]}, "mark": {"type": "text", "align": "left", "dx": 3}, "encoding": {"x": {"datum": 0, "type": "quantitative", "scale": {"domain": [-0.1, 0.171], "range": [438.3, 579.2], "clamp": true, "nice": false, "zero": false}, "axis": {"values": [-0.1, -0.05, 0, 0.05, 0.1, 0.15], "orient": "bottom", "offset": -45, "domain": false, "title": null, "labelExpr": "replace(format(datum.value, '~g'), '.', '·')", "tickColor": "#333333", "tickSize": 4, "labelPadding": 1, "labelFlush": false, "labelOverlap": false}}, "y": {"datum": 14.17, "type": "quantitative", "scale": {"domain": [0, 10], "range": [429, 549], "nice": false, "zero": false}, "axis": null}, "text": {"value": "Better wellbeing"}}}
   ]
  }
 ]
}
